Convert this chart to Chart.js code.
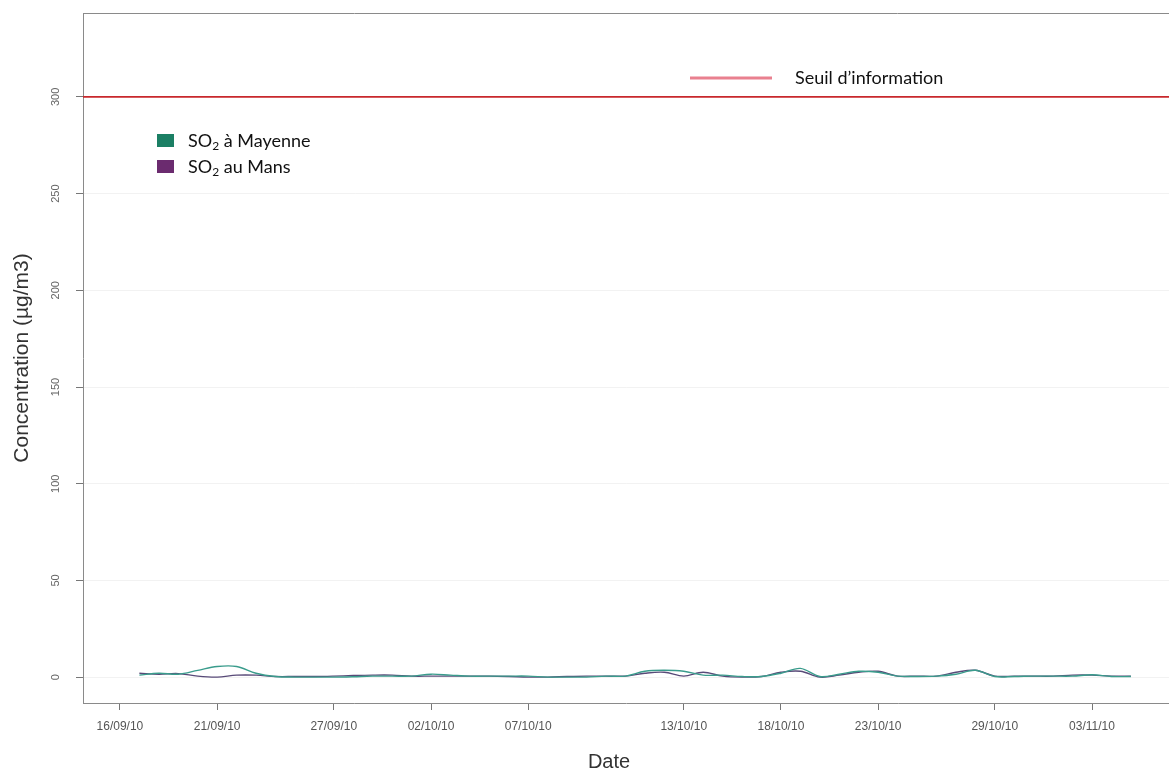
<!DOCTYPE html>
<html>
<head>
<meta charset="utf-8">
<script src="https://cdn.jsdelivr.net/npm/chart.js@4/dist/chart.umd.min.js"></script>
<style>
  html, body { margin: 0; padding: 0; background: #ffffff; }
  #wrap { width: 1169px; height: 775px; position: relative; }
</style>
</head>
<body>
<div id="wrap"><canvas id="c" width="1169" height="775"></canvas></div>
<script>
// Daily sample index along the time axis
const samples = [1, 2, 3, 4, 5, 6, 7, 8, 9, 10, 11, 12, 13, 14, 15, 16, 17, 18, 19, 20,
                 21, 22, 23, 24, 25, 26, 27, 28, 29, 30, 31, 32, 33, 34, 35, 36, 37, 38, 39, 40,
                 41, 42, 43, 44, 45, 46, 47, 48, 49, 50, 51, 52];

// SO2 concentrations (µg/m3)
const mayenne = [1, 2, 1.5, 3.5, 5.5, 5.5, 2, 0.3, 0, 0, 0, 0.2, 0.5, 0.5, 0.5, 1.5, 1, 0.5, 0.5, 0.5,
                 0.5, 0, 0, 0, 0.5, 0.5, 3, 3.5, 3, 1, 1, 0.3, 0.3, 2, 4.5, 0.3, 1.5, 3, 2.5, 0.5,
                 0.3, 0.5, 1.5, 3.5, 0.3, 0.3, 0.5, 0.5, 0.5, 1.2, 0.3, 0.3];
const mans = [2, 1.5, 1.8, 0.5, 0, 1, 1, 0.3, 0.3, 0.3, 0.5, 0.8, 1, 1, 0.5, 0.5, 0.5, 0.5, 0.5, 0.3,
              0, 0, 0.3, 0.5, 0.5, 0.5, 2, 2.5, 0.5, 2.5, 0.5, 0, 0.3, 2.5, 3, 0, 1, 2.5, 3, 0.5,
              0.5, 0.5, 2.5, 3.5, 0.5, 0.5, 0.5, 0.5, 1, 1, 0.5, 0.5];

// Information threshold (µg/m3)
const thresholdValue = 300;

// Date labels and where they sit on the sample axis
const tickPositions = [0, 5, 11, 16, 21, 29, 34, 39, 45, 50];
const tickLabels = ['16/09/10', '21/09/10', '27/09/10', '02/10/10', '07/10/10',
                    '13/10/10', '18/10/10', '23/10/10', '29/10/10', '03/11/10'];

const yTickValues = [0, 50, 100, 150, 200, 250, 300];

const X_MIN = -1.9, X_MAX = 53.96;
const Y_MIN = -13.4, Y_MAX = 343.4;

const toPoints = (xs, ys) => xs.map((x, i) => ({ x: x, y: ys[i] }));

const LEGEND_FONT = '18px Lato, "Open Sans", sans-serif';

const decorations = {
  id: 'decorations',
  afterDraw(chart) {
    const ctx = chart.ctx;
    const area = chart.chartArea;
    const yScale = chart.scales.y;
    ctx.save();

    // top frame line
    ctx.strokeStyle = '#8a8a8a';
    ctx.lineWidth = 1;
    ctx.beginPath();
    ctx.moveTo(area.left, area.top + 0.5);
    ctx.lineTo(area.right, area.top + 0.5);
    ctx.stroke();

    // rotated y tick labels
    ctx.fillStyle = '#666666';
    ctx.font = '11px "Liberation Sans", Arial, sans-serif';
    ctx.textAlign = 'center';
    ctx.textBaseline = 'middle';
    yTickValues.forEach(v => {
      const py = yScale.getPixelForValue(v);
      ctx.save();
      ctx.translate(56, py);
      ctx.rotate(-Math.PI / 2);
      ctx.fillText(String(v), 0, 0);
      ctx.restore();
    });

    // axis titles
    ctx.fillStyle = '#333333';
    ctx.font = '21px "Liberation Sans", Arial, sans-serif';
    ctx.save();
    ctx.translate(22, (area.top + area.bottom) / 2);
    ctx.rotate(-Math.PI / 2);
    ctx.fillText('Concentration (µg/m3)', 0, 0);
    ctx.restore();
    ctx.font = '20px "Liberation Sans", Arial, sans-serif';
    ctx.fillText('Date', 609, 762);

    // threshold legend
    ctx.fillStyle = '#ffffff';
    ctx.fillRect(685, 62, 280, 30);
    ctx.strokeStyle = '#e9808f';
    ctx.lineWidth = 3;
    ctx.beginPath();
    ctx.moveTo(690, 78);
    ctx.lineTo(772, 78);
    ctx.stroke();
    ctx.fillStyle = '#111111';
    ctx.font = LEGEND_FONT;
    ctx.textAlign = 'left';
    ctx.fillText('Seuil d\u2019information', 795, 78);

    // series legend
    const items = [
      { color: '#1b7f64', rest: ' à Mayenne', y: 141 },
      { color: '#6b2b6f', rest: ' au Mans', y: 167 }
    ];
    items.forEach(it => {
      ctx.fillStyle = it.color;
      ctx.fillRect(157, it.y - 7, 17, 13);
      ctx.fillStyle = '#111111';
      ctx.font = LEGEND_FONT;
      let x = 188;
      ctx.fillText('SO', x, it.y);
      x += ctx.measureText('SO').width;
      ctx.font = '12px Lato, "Open Sans", sans-serif';
      ctx.fillText('2', x, it.y + 5);
      x += ctx.measureText('2').width;
      ctx.font = LEGEND_FONT;
      ctx.fillText(it.rest, x, it.y);
    });

    ctx.restore();
  }
};

new Chart(document.getElementById('c'), {
  type: 'line',
  data: {
    datasets: [
      {
        label: 'Seuil d\u2019information',
        data: [{ x: X_MIN, y: thresholdValue }, { x: X_MAX, y: thresholdValue }],
        borderColor: '#c8282c',
        borderWidth: 1.8,
        pointRadius: 0,
        tension: 0
      },
      {
        label: 'SO2 à Mayenne',
        data: toPoints(samples, mayenne),
        borderColor: '#3a9c8c',
        borderWidth: 1.4,
        pointRadius: 0,
        tension: 0.35
      },
      {
        label: 'SO2 au Mans',
        data: toPoints(samples, mans),
        borderColor: '#584a78',
        borderWidth: 1.4,
        pointRadius: 0,
        tension: 0.35
      }
    ]
  },
  options: {
    responsive: false,
    animation: false,
    devicePixelRatio: 1,
    layout: { padding: { top: 13, right: 0, left: 0, bottom: 0 } },
    plugins: { legend: { display: false }, tooltip: { enabled: false } },
    scales: {
      x: {
        type: 'linear',
        min: X_MIN,
        max: X_MAX,
        afterBuildTicks: s => { s.ticks = tickPositions.map(v => ({ value: v })); },
        afterFit: s => { s.height = 72; },
        ticks: {
          autoSkip: false,
          maxRotation: 0,
          minRotation: 0,
          padding: 9,
          color: '#555555',
          font: { family: '"Liberation Sans", Arial, sans-serif', size: 12 },
          callback: v => { const i = tickPositions.indexOf(v); return i >= 0 ? tickLabels[i] : ''; }
        },
        grid: { drawOnChartArea: false, tickLength: 7, tickColor: '#777777' },
        border: { display: true, color: '#8a8a8a', width: 1 }
      },
      y: {
        type: 'linear',
        min: Y_MIN,
        max: Y_MAX,
        afterBuildTicks: s => { s.ticks = yTickValues.map(v => ({ value: v })); },
        afterFit: s => { s.width = 83; },
        ticks: { display: false },
        grid: { color: 'rgba(0,0,0,0.05)', tickLength: 7, tickColor: '#777777' },
        border: { display: true, color: '#8a8a8a', width: 1 }
      }
    }
  },
  plugins: [decorations]
});
</script>
</body>
</html>
